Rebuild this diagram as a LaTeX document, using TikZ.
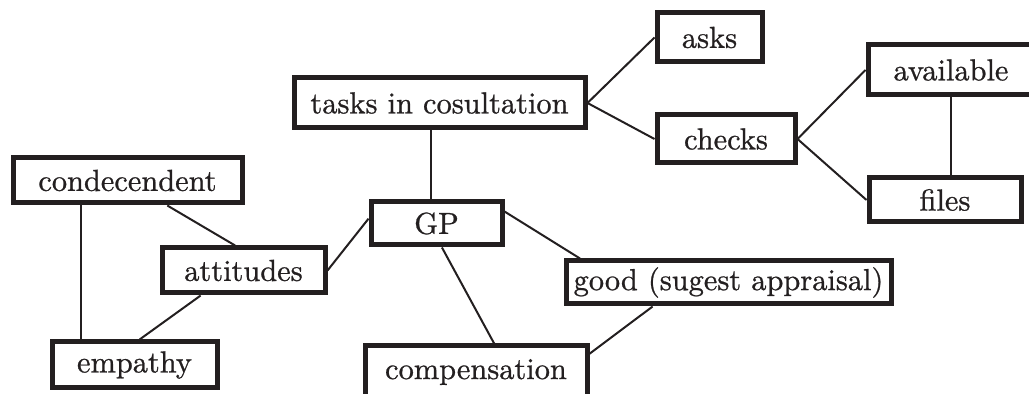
\documentclass[tikz,border=0pt]{standalone}
\usepackage{fontspec}
\newfontfamily\boxfont[FakeBold=0.8]{lmroman10-regular.otf}
\usetikzlibrary{calc}
\definecolor{ink}{HTML}{231F20}
\begin{document}
\begin{tikzpicture}[x=0.5pt,y=-0.5pt,
  box/.style={draw=ink, line width=2.5pt, fill=white, inner sep=0pt,
    font=\boxfont\fontsize{15.2}{18}\selectfont, text=ink},
  link/.style={draw=ink, line width=1pt}]
\useasboundingbox (0,0) rectangle (1029,394);
\clip (0,0) rectangle (1029,394);

% concept boxes
\node[box, minimum width=145.5pt, minimum height=25pt] (tasks) at (439.5,103) {tasks in cosultation};
\node[box, minimum width=52.5pt, minimum height=24.5pt] (asks) at (709.5,37.5) {asks};
\node[box, minimum width=69pt, minimum height=24pt] (checks) at (726,139) {checks};
\node[box, minimum width=83pt, minimum height=25pt] (available) at (951,70) {available};
\node[box, minimum width=76pt, minimum height=22pt] (files) at (945,200) {files};
\node[box, minimum width=114.5pt, minimum height=22.5pt] (cond) at (127.5,180.5) {condecendent};
\node[box, minimum width=81.5pt, minimum height=22.5pt] (attitudes) at (243.5,270.5) {attitudes};
\node[box, minimum width=82.5pt, minimum height=23pt] (empathy) at (134.5,365) {empathy};
\node[box, minimum width=65.5pt, minimum height=21.5pt] (GP) at (436.5,223.5) {GP};
\node[box, minimum width=162.5pt, minimum height=21.5pt] (good) at (728.5,282.5) {good (sugest appraisal)};
\node[box, minimum width=111pt, minimum height=26pt] (comp) at (476,372) {compensation};

% connections
\draw[link] (tasks.east) -- (asks.west);
\draw[link] (tasks.east) -- (checks.west);
\draw[link] (checks.east) -- (available.west);
\draw[link] (checks.east) -- (files.west);
\draw[link] (available.south) -- (available.south |- files.north);
\coordinate (tg) at ($(GP.north west)!0.46!(GP.north east)$);
\draw[link] (tg |- tasks.south) -- (tg);
\draw[link] ($(GP.north west)!0.4!(GP.south west)$) -- (attitudes.east);
\draw[link] ($(cond.south west)!0.67!(cond.south east)$) -- ($(attitudes.north west)!0.45!(attitudes.north east)$);
\coordinate (ce) at ($(cond.south west)!0.3!(cond.south east)$);
\draw[link] (ce) -- (ce |- empathy.north);
\draw[link] ($(attitudes.south west)!0.245!(attitudes.south east)$) -- ($(empathy.north west)!0.53!(empathy.north east)$);
\draw[link] ($(GP.south west)!0.54!(GP.south east)$) -- ($(comp.north west)!0.58!(comp.north east)$);
\draw[link] ($(GP.north east)!0.25!(GP.south east)$) -- ($(good.north west)!0.05!(good.north east)$);
\draw[link] ($(good.south west)!0.27!(good.south east)$) -- ($(comp.north east)!0.18!(comp.south east)$);
\end{tikzpicture}
\end{document}
